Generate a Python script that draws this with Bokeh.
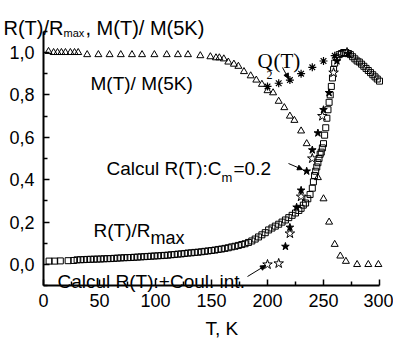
from bokeh.plotting import figure
from bokeh.models import (Range1d, FixedTicker, Label, Arrow, NormalHead)
from bokeh.embed import file_html
from bokeh.resources import INLINE

# ---------------- data ----------------
# M(T)/M(5K) (open triangles)
m_T = [4.5, 9, 12.5, 16, 19.6, 24, 27.7, 31, 39, 49, 59, 69, 79, 88, 99, 110, 120, 129,
       140, 149, 154, 157, 161, 165, 170, 174, 179, 185, 190, 195, 200, 205, 210, 215,
       220, 224, 230, 235, 245, 250, 255, 260, 265, 270, 280, 290, 299]
m_val = [1.005, 1.0, 1.0, 1.0, 1.0, 1.0, 1.0, 1.0, 0.99, 0.99, 0.99, 0.99, 0.99, 0.99, 0.99,
         0.99, 0.99, 0.99, 0.985, 0.98, 0.975, 0.975, 0.97, 0.955, 0.945, 0.935, 0.91, 0.89,
         0.87, 0.85, 0.82, 0.81, 0.77, 0.74, 0.70, 0.68, 0.63, 0.57, 0.41, 0.31, 0.20, 0.095,
         0.04, 0.015, 0.0, 0.0, 0.0]

# R(T)/Rmax (open squares)
r_T = [5, 10, 15, 22, 27,
       30, 33, 36, 39, 42, 45, 48, 51, 54, 57, 60, 63, 66, 69, 72, 75, 78, 81, 84, 87, 90,
       93, 96, 99, 102, 105, 108, 111, 114, 117, 120, 123, 126, 129, 132, 135, 138, 141,
       144, 147, 150, 153, 156, 159, 162, 165, 168, 171, 174, 177, 180, 183, 186, 189, 192,
       195, 198, 201, 204, 207, 210, 213, 216, 219, 222, 225, 228,
       230, 232, 234, 236, 238, 240, 241, 242, 243, 244, 245, 246, 247, 248, 249, 250, 251,
       252, 253, 254, 255, 256, 257, 258, 259, 260, 262, 264, 266, 268, 270, 272, 274, 276,
       278, 280, 282, 284, 286, 288, 290, 292, 294, 296, 298, 300]
r_val = [0.016, 0.016, 0.017, 0.018, 0.019,
         0.022, 0.0225, 0.023, 0.024, 0.0245, 0.025, 0.0255, 0.026, 0.027, 0.0275, 0.028,
         0.029, 0.030, 0.031, 0.032, 0.0325, 0.033, 0.034, 0.035, 0.036, 0.037, 0.038, 0.039,
         0.040, 0.041, 0.042, 0.043, 0.044, 0.046, 0.047, 0.049, 0.050, 0.052, 0.054, 0.055,
         0.057, 0.058, 0.060, 0.062, 0.064, 0.066, 0.068, 0.071, 0.073, 0.076, 0.079, 0.083,
         0.086, 0.090, 0.094, 0.098, 0.104, 0.111, 0.120, 0.130, 0.140, 0.150, 0.163, 0.172,
         0.181, 0.190, 0.200, 0.210, 0.221, 0.232, 0.243, 0.255,
         0.265, 0.28, 0.29, 0.31, 0.33, 0.36, 0.39, 0.42, 0.44, 0.46, 0.48, 0.50, 0.52, 0.53,
         0.55, 0.57, 0.61, 0.645, 0.69, 0.73, 0.765, 0.80, 0.84, 0.88, 0.92, 0.95, 0.975,
         0.99, 0.995, 1.0, 1.0, 0.995, 0.99, 0.98, 0.97, 0.96, 0.955, 0.945, 0.935, 0.925,
         0.915, 0.905, 0.895, 0.885, 0.875, 0.865]

# Calcul R(T): Cm = 0.2 (filled stars)
cm_T = [216, 220, 226, 230, 235, 240, 245, 250, 255, 262, 272]
cm_val = [0.085, 0.175, 0.27, 0.35, 0.44, 0.54, 0.62, 0.73, 0.81, 0.96, 0.995]

# Calcul R(T): + Coul. int. (open stars)
cl_T = [200, 210, 220, 230, 240, 249, 259, 271]
cl_val = [0.0, 0.005, 0.146, 0.32, 0.50, 0.70, 0.905, 1.0]

# Q2(T) (asterisks)
q_T = [200, 210, 220, 230, 240, 250, 260]
q_val = [0.84, 0.855, 0.87, 0.90, 0.93, 0.96, 0.985]

x_ticks = [0, 50, 100, 150, 200, 250, 300]
x_minor = [25, 75, 125, 175, 225, 275]
y_ticks = [0.0, 0.2, 0.4, 0.6, 0.8, 1.0]
y_tick_labels = ["0,0", "0,2", "0,4", "0,6", "0,8", "1,0"]
y_minor = [-0.1, 0.1, 0.3, 0.5, 0.7, 0.9, 1.1]

FONT = "Liberation Sans"
SERIF = "Liberation Serif"

W, H = 393, 338
X0, X300 = 43, 379      # pixel positions of T = 0 and T = 300
Y0, YSCALE = 264, 212   # pixel position of 0.0 and pixels per unit
kx = (X300 - X0) / 300.0

p = figure(width=W, height=H, output_backend="svg", toolbar_location=None,
           x_range=Range1d(-X0 / kx, 300 + (W - X300) / kx),
           y_range=Range1d((Y0 - H) / YSCALE, Y0 / YSCALE),
           min_border=0, min_border_left=0, min_border_right=0,
           min_border_top=0, min_border_bottom=0)
p.xgrid.visible = False
p.ygrid.visible = False
p.outline_line_color = None
p.background_fill_color = "white"
p.border_fill_color = "white"

for ax in (p.xaxis[0], p.yaxis[0]):
    ax.axis_line_width = 2
    ax.major_tick_in = 6
    ax.major_tick_out = 0
    ax.minor_tick_in = 4
    ax.minor_tick_out = 0
    ax.major_tick_line_width = 1.5
    ax.minor_tick_line_width = 1.5
    ax.major_label_text_font = FONT
    ax.major_label_text_font_size = "18px"
    ax.major_label_text_color = "black"
    ax.axis_line_color = "black"

p.xaxis[0].ticker = FixedTicker(ticks=x_ticks, minor_ticks=x_minor)
p.yaxis[0].ticker = FixedTicker(ticks=y_ticks, minor_ticks=y_minor)
p.yaxis[0].major_label_overrides = {t: l for t, l in zip(y_ticks, y_tick_labels)}
p.yaxis[0].major_label_standoff = 9
p.xaxis[0].major_label_standoff = 8
p.yaxis[0].fixed_location = 0
p.yaxis[0].bounds = (-0.1, 1.1)
p.xaxis[0].fixed_location = -0.1
p.xaxis[0].bounds = (0, 300)

# marks
p.scatter(r_T, r_val, marker="square", size=6, fill_color=None, line_color="black", line_width=1)
p.scatter(m_T, m_val, marker="triangle", size=7, fill_color=None, line_color="black", line_width=1)
p.scatter(cl_T, cl_val, marker="star", size=10, fill_color="white", line_color="black", line_width=1)
p.scatter(cm_T, cm_val, marker="star", size=8, fill_color="black", line_color="black", line_width=1)
p.scatter(q_T, q_val, marker="asterisk", size=8, line_color="black", line_width=1.2)


def tx(px):
    return (px - X0) / kx


def vy(py):
    return (Y0 - py) / YSCALE


def lab(text, px, py, size, font=FONT):
    p.add_layout(Label(x=tx(px), y=vy(py), text=text, text_font=font,
                       text_font_size=size, text_color="black",
                       text_baseline="alphabetic", text_align="left"))


# title
lab("R(T)/R", 3, 27, "20px")
lab("max", 63, 32, "11px")
lab(", M(T)/ M(5K)", 85, 27, "20px")
# x label
lab("T, K", 205, 328, "19px")
# in-plot labels
lab("M(T)/ M(5K)", 90, 83, "19px")
lab("Q", 257, 60, "21px", SERIF)
lab("2", 266, 74, "12px", SERIF)
lab("(T)", 273, 60, "21px", SERIF)
lab("Calcul R(T):C", 106, 168, "19px")
lab("m", 221, 177, "13px")
lab("=0.2", 233, 168, "19px")
lab("R(T)/R", 93, 230, "19px")
lab("max", 150, 237, "18px")
lab("Calcul R(T):+Coul. int.", 57, 281, "19px")

for (x0, y0, x1, y1) in [(282, 67, 288, 78), (288, 163, 302, 169), (247, 276, 265, 265)]:
    p.add_layout(Arrow(x_start=tx(x0), y_start=vy(y0), x_end=tx(x1), y_end=vy(y1),
                       line_width=1, line_color="black",
                       end=NormalHead(size=5, fill_color="black", line_color="black")))

open("out.html", "w").write(file_html(p, INLINE))
